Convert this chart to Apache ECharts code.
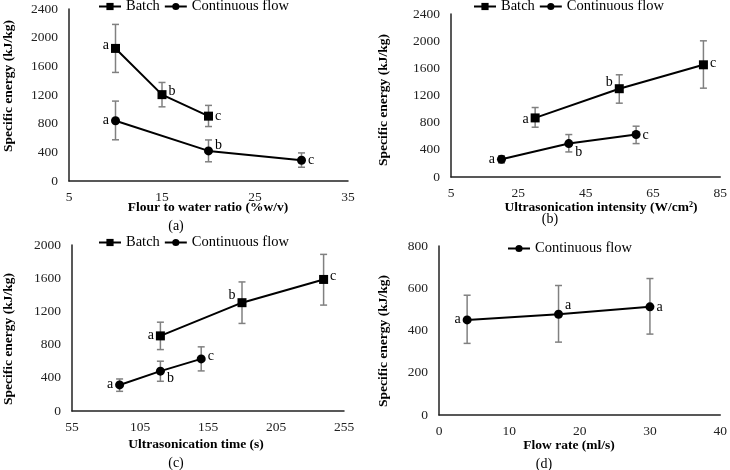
<!DOCTYPE html>
<html><head><meta charset="utf-8">
<script src="https://cdn.jsdelivr.net/npm/echarts@6/dist/echarts.min.js"></script>
<style>html,body{margin:0;padding:0;background:#fff}#c{width:730px;height:470px}</style>
</head><body><div id="c"></div>
<script>
// ---- Data ----
// (a) Flour to water ratio
const aBatchX = [10, 15, 20];
const aBatchY = [1850, 1205, 905];
const aBatchLow = [1515, 1035, 760];
const aBatchHigh = [2185, 1375, 1055];
const aBatchLetters = ['a', 'b', 'c'];
const aContX = [10, 20, 30];
const aContY = [840, 420, 290];
const aContLow = [575, 268, 192];
const aContHigh = [1115, 573, 392];
const aContLetters = ['a', 'b', 'c'];
// (b) Ultrasonication intensity
const bBatchX = [30, 55, 80];
const bBatchY = [870, 1300, 1652];
const bBatchLow = [733, 1087, 1308];
const bBatchHigh = [1023, 1505, 2005];
const bBatchLetters = ['a', 'b', 'c'];
const bContX = [20, 40, 60];
const bContY = [262, 492, 625];
const bContLow = [207, 369, 492];
const bContHigh = [312, 625, 748];
const bContLetters = ['a', 'b', 'c'];
// (c) Ultrasonication time
const cBatchX = [120, 180, 240];
const cBatchY = [905, 1305, 1585];
const cBatchLow = [740, 1055, 1276];
const cBatchHigh = [1070, 1555, 1887];
const cBatchLetters = ['a', 'b', 'c'];
const cContX = [90, 120, 150];
const cContY = [314, 480, 628];
const cContLow = [237, 358, 483];
const cContHigh = [386, 600, 773];
const cContLetters = ['a', 'b', 'c'];
// (d) Flow rate
const dContX = [4, 17, 30];
const dContY = [450, 477, 512];
const dContLow = [339, 345, 383];
const dContHigh = [567, 613, 646];
const dContLetters = ['a', 'a', 'a'];

const seriesNames = ['Batch', 'Continuous flow'];
const yTitle = 'Specific energy (kJ/kg)';
const xTitles = ['Flour to water ratio (%w/v)', 'Ultrasonication intensity (W/cm²)', 'Ultrasonication time (s)', 'Flow rate (ml/s)'];
const panelTags = ['(a)', '(b)', '(c)', '(d)'];

// ---- Styling / layout ----
const FONT = '"Liberation Serif", "Times New Roman", serif';
const chart = echarts.init(document.getElementById('c'), null, {renderer: 'canvas'});

const grids = [
  {left: 69, top: 9, width: 279, height: 172},
  {left: 451, top: 14, width: 270, height: 163},
  {left: 72, top: 245, width: 272, height: 166},
  {left: 439, top: 246, width: 283, height: 169}
];
const xRanges = [[5, 35, 10], [5, 85, 20], [55, 255, 50], [0, 40, 10]];
const yRanges = [[0, 2400, 400], [0, 2400, 400], [0, 2000, 400], [0, 800, 200]];

// label placement per point: [side, dy]
const lblA_b = [['left', -3], ['right', -3], ['right', 0]];
const lblA_c = [['left', 0], ['right', -6], ['right', 0]];
const lblB_b = [['left', 1], ['left', -6], ['right', -1]];
const lblB_c = [['left', 0], ['right', 9], ['right', 1]];
const lblC_b = [['left', -1], ['left', -7], ['right', -3]];
const lblC_c = [['left', -1], ['right', 7], ['right', -3]];
const lblD_c = [['left', -1], ['right', -9], ['right', 0]];

function lineSeries(name, gi, xs, ys, letters, lbl, symbol) {
  return {
    type: 'line', name: name, xAxisIndex: gi, yAxisIndex: gi,
    symbol: symbol, symbolSize: 9,
    lineStyle: {color: '#000', width: 2},
    itemStyle: {color: '#000'},
    z: 3,
    data: xs.map((x, i) => ({
      value: [x, ys[i]],
      label: {show: true, formatter: letters[i], position: lbl[i][0], distance: 2,
        offset: [0, lbl[i][1]], color: '#000', fontFamily: FONT, fontSize: 14}
    }))
  };
}
function errSeries(gi, xs, lows, highs) {
  return {
    type: 'custom', xAxisIndex: gi, yAxisIndex: gi, z: 2, silent: true,
    data: xs.map((x, i) => [x, lows[i], highs[i]]),
    encode: {x: 0, y: [1, 2]},
    renderItem: function (params, api) {
      const lo = api.coord([api.value(0), api.value(1)]);
      const hi = api.coord([api.value(0), api.value(2)]);
      const hw = 3.5;
      const st = {stroke: '#808080', lineWidth: 1.5};
      return {type: 'group', children: [
        {type: 'line', shape: {x1: lo[0], y1: lo[1], x2: hi[0], y2: hi[1]}, style: st},
        {type: 'line', shape: {x1: lo[0] - hw, y1: lo[1], x2: lo[0] + hw, y2: lo[1]}, style: st},
        {type: 'line', shape: {x1: hi[0] - hw, y1: hi[1], x2: hi[0] + hw, y2: hi[1]}, style: st}
      ]};
    }
  };
}

const labelStyle = {color: '#222', fontFamily: FONT, fontSize: 13.5, formatter: v => String(v)};
const axisCommon = {
  axisLine: {show: true, onZero: false, lineStyle: {color: '#222', width: 1.5}},
  axisTick: {show: false}, splitLine: {show: false}
};
const xAxes = xRanges.map((r, i) => Object.assign({}, axisCommon, {
  type: 'value', gridIndex: i, min: r[0], max: r[1], interval: r[2],
  axisLabel: Object.assign({}, labelStyle, {margin: 9})
}));
const yAxes = yRanges.map((r, i) => Object.assign({}, axisCommon, {
  type: 'value', gridIndex: i, min: r[0], max: r[1], interval: r[2],
  axisLabel: Object.assign({}, labelStyle, {margin: 11})
}));

const series = [
  errSeries(0, aBatchX, aBatchLow, aBatchHigh),
  errSeries(0, aContX, aContLow, aContHigh),
  lineSeries(seriesNames[0], 0, aBatchX, aBatchY, aBatchLetters, lblA_b, 'rect'),
  lineSeries(seriesNames[1], 0, aContX, aContY, aContLetters, lblA_c, 'circle'),
  errSeries(1, bBatchX, bBatchLow, bBatchHigh),
  errSeries(1, bContX, bContLow, bContHigh),
  lineSeries(seriesNames[0], 1, bBatchX, bBatchY, bBatchLetters, lblB_b, 'rect'),
  lineSeries(seriesNames[1], 1, bContX, bContY, bContLetters, lblB_c, 'circle'),
  errSeries(2, cBatchX, cBatchLow, cBatchHigh),
  errSeries(2, cContX, cContLow, cContHigh),
  lineSeries(seriesNames[0], 2, cBatchX, cBatchY, cBatchLetters, lblC_b, 'rect'),
  lineSeries(seriesNames[1], 2, cContX, cContY, cContLetters, lblC_c, 'circle'),
  errSeries(3, dContX, dContLow, dContHigh),
  lineSeries(seriesNames[1], 3, dContX, dContY, dContLetters, lblD_c, 'circle')
];

const legendCommon = {
  itemWidth: 22, itemHeight: 9, itemGap: 4, padding: 0, selectedMode: false,
  textStyle: {fontFamily: FONT, fontSize: 14.5, color: '#000'}
};
const legends = [
  Object.assign({}, legendCommon, {left: 98, top: -1, data: seriesNames}),
  Object.assign({}, legendCommon, {left: 473, top: -1, data: seriesNames}),
  Object.assign({}, legendCommon, {left: 98, top: 235, data: seriesNames}),
  Object.assign({}, legendCommon, {left: 507, top: 241, data: [seriesNames[1]]})
];

const xTitlePos = [[208, 208], [601, 208], [196, 445], [569, 446]];
const yTitlePos = [[9, 86], [384, 100], [9, 339], [384, 341]];
const tagPos = [[176, 226], [550, 219], [176, 463], [544, 464]];
const graphics = [];
for (let i = 0; i < 4; i++) {
  graphics.push({type: 'text', x: xTitlePos[i][0], y: xTitlePos[i][1],
    style: {text: xTitles[i], fontFamily: FONT, fontSize: 13.5, fontWeight: 'bold', fill: '#000',
      textAlign: 'center', textVerticalAlign: 'middle'}});
  graphics.push({type: 'text', x: yTitlePos[i][0], y: yTitlePos[i][1], rotation: Math.PI / 2,
    style: {text: yTitle, fontFamily: FONT, fontSize: 13.5, fontWeight: 'bold', fill: '#000',
      textAlign: 'center', textVerticalAlign: 'middle'}});
  graphics.push({type: 'text', x: tagPos[i][0], y: tagPos[i][1],
    style: {text: panelTags[i], fontFamily: FONT, fontSize: 14, fill: '#000',
      textAlign: 'center', textVerticalAlign: 'middle'}});
}

chart.setOption({
  animation: false,
  backgroundColor: '#fff',
  grid: grids,
  xAxis: xAxes,
  yAxis: yAxes,
  legend: legends,
  series: series,
  graphic: graphics
});
</script></body></html>
